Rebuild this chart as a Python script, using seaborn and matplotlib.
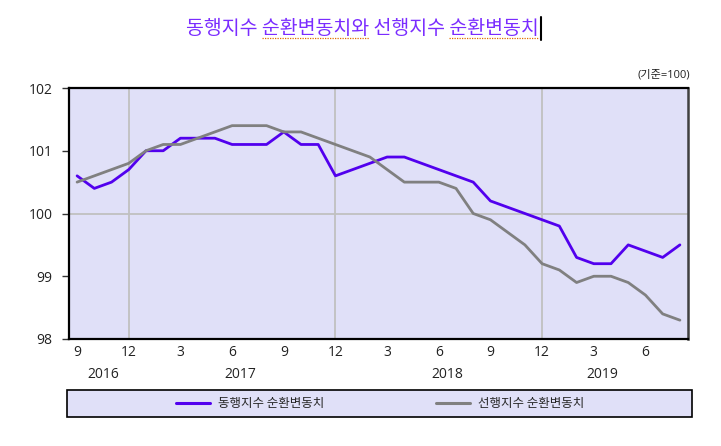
import matplotlib
matplotlib.use('Agg')
import matplotlib.pyplot as plt
import seaborn as sns
import pandas as pd
from matplotlib.patches import Rectangle
from matplotlib.lines import Line2D

# ---------------- data ----------------
months = pd.period_range('2016-09', '2019-08', freq='M')
coincident = [100.6, 100.4, 100.5, 100.7,
              101.0, 101.0, 101.2, 101.2, 101.2, 101.1, 101.1, 101.1, 101.3, 101.1, 101.1, 100.6,
              100.7, 100.8, 100.9, 100.9, 100.8, 100.7, 100.6, 100.5, 100.2, 100.1, 100.0, 99.9,
              99.8, 99.3, 99.2, 99.2, 99.5, 99.4, 99.3, 99.5]
leading = [100.5, 100.6, 100.7, 100.8,
           101.0, 101.1, 101.1, 101.2, 101.3, 101.4, 101.4, 101.4, 101.3, 101.3, 101.2, 101.1,
           101.0, 100.9, 100.7, 100.5, 100.5, 100.5, 100.4, 100.0, 99.9, 99.7, 99.5, 99.2,
           99.1, 98.9, 99.0, 99.0, 98.9, 98.7, 98.4, 98.3]
series_names = ['동행지수 순환변동치', '선행지수 순환변동치']
title_text = '동행지수 순환변동치와 선행지수 순환변동치'
unit_text = '(기준=100)'
y_ticks = [98, 99, 100, 101, 102]
years = ['2016', '2017', '2018', '2019']

df = pd.DataFrame({
    'idx': list(range(len(months))) * 2,
    'value': coincident + leading,
    'series': [series_names[0]] * len(months) + [series_names[1]] * len(months),
})

# ---------------- style ----------------
sns.set_style('white')
plt.rcParams['font.family'] = ['Open Sans', 'Noto Sans CJK KR', 'DejaVu Sans']

purple = '#5200EE'
gray = '#808080'
bg = '#E0E0F8'
txt = '#222222'

fig = plt.figure(figsize=(7.21, 4.46), dpi=100)
ax = fig.add_axes([69 / 721, 1 - 339 / 446, (688 - 69) / 721, (339 - 88) / 446])
ax.set_facecolor(bg)

sns.lineplot(data=df, x='idx', y='value', hue='series',
             palette=[purple, gray], linewidth=2.0, ax=ax, legend=False)

ax.set_xlim(-0.47, len(months) - 1 + 0.47)
ax.set_ylim(98, 102)
ax.set_yticks(y_ticks)
ax.set_yticklabels([str(v) for v in y_ticks], fontsize=10, color=txt)
xt = list(range(0, len(months), 3))
ax.set_xticks(xt)
ax.set_xticklabels([str(months[i].month) for i in xt], fontsize=10, color=txt)
ax.tick_params(axis='y', length=5, width=1, direction='out', pad=7, color='#333333', left=True)
ax.tick_params(axis='x', length=0, pad=4)
ax.set_xlabel('')
ax.set_ylabel('')

# gridlines: December verticals, 100 horizontal
for i, m in enumerate(months):
    if m.month == 12:
        ax.axvline(i, color='#C0C0C0', lw=1.3, zorder=0.5)
ax.axhline(100, color='#C0C0C0', lw=1.3, zorder=0.5)

for side in ['left', 'bottom', 'top']:
    ax.spines[side].set_color('black')
    ax.spines[side].set_linewidth(1.6)
ax.spines['right'].set_color('#404040')
ax.spines['right'].set_linewidth(1.8)

# year labels
year_pos = [1.5, 9.5, 21.5, 30.5]
for y, p in zip(years, year_pos):
    ax.text(p, -0.14, y, transform=ax.get_xaxis_transform(), ha='center', va='center',
            fontsize=10, color=txt)

# title
title_kw = dict(fontsize=14, color='#7A2CFF', family=['Noto Sans CJK KR', 'DejaVu Sans'])
tx, ty = 362 / 721, 1 - 28 / 446
t = fig.text(tx, ty, title_text, ha='center', va='center', **title_kw)
r = fig.canvas.get_renderer()
bb = t.get_window_extent(r)


def prefix_w(s):
    tmp = fig.text(0, 0, s, **title_kw)
    w = tmp.get_window_extent(r).width if s else 0
    tmp.remove()
    return w


H = fig.bbox.height
W = fig.bbox.width
x_left = bb.x0
words = title_text.split(' ')
# underline 2nd word and 4th word (spell-check squiggles)
for wi in (1, 3):
    pre = ' '.join(words[:wi]) + ' '
    x0 = x_left + prefix_w(pre)
    x1 = x_left + prefix_w(pre + words[wi])
    fig.add_artist(Line2D([x0 / W, x1 / W], [1 - 38 / 446, 1 - 38 / 446],
                          transform=fig.transFigure, color='#E07000', lw=0.9, ls=(0, (1, 1))))
cx = (bb.x1 + 3) / W
fig.add_artist(Line2D([cx, cx], [1 - 17 / 446, 1 - 40 / 446],
                      transform=fig.transFigure, color='black', lw=1.5))

fig.text(690 / 721, 1 - 75 / 446, unit_text, ha='right', va='center', fontsize=8, color=txt)

# legend
fig.patches.append(Rectangle((67 / 721, 1 - 417 / 446), (692 - 67) / 721, 27 / 446,
                             transform=fig.transFigure, facecolor=bg, edgecolor='black',
                             lw=1.2, zorder=0))
handles = [Line2D([], [], color=purple, lw=2.2), Line2D([], [], color=gray, lw=2.2)]
fig.legend(handles, series_names, loc='center', bbox_to_anchor=(380 / 721, 1 - 403.5 / 446),
           ncol=2, frameon=False, fontsize=9, handlelength=2.7, handletextpad=0.6,
           columnspacing=9.0, prop={'family': ['Noto Sans CJK KR', 'DejaVu Sans'], 'size': 9})

fig.savefig('out.png', dpi=100)
